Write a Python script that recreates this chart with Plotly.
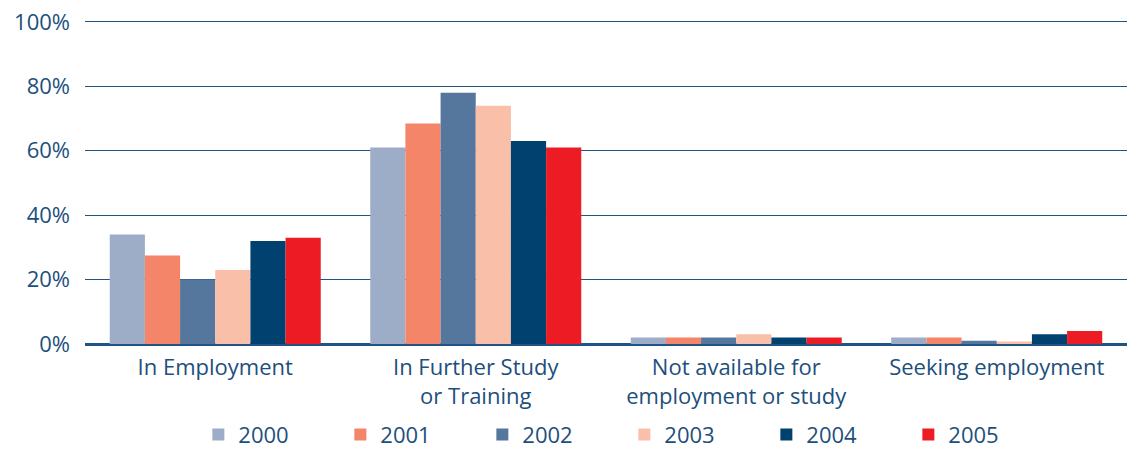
import plotly.graph_objects as go

categories = ["In Employment", "In Further Study<br>or Training",
              "Not available for<br>employment or study", "Seeking employment"]
years = ["2000", "2001", "2002", "2003", "2004", "2005"]
values = {
    "2000": [34, 61, 2, 2],
    "2001": [27.5, 68.5, 2, 2],
    "2002": [20, 78, 2, 1],
    "2003": [23, 74, 3, 0.8],
    "2004": [32, 63, 2, 3],
    "2005": [33, 61, 2, 4],
}
colors = {
    "2000": "#9dadc7",
    "2001": "#f48568",
    "2002": "#56779d",
    "2003": "#f9bfa8",
    "2004": "#004170",
    "2005": "#ed1c24",
}
tick_vals = [0, 20, 40, 60, 80, 100]
tick_text = ["0%", "20%", "40%", "60%", "80%", "100%"]

text_color = "#1d4f7c"
grid_color = "#1f5586"

fig = go.Figure()
for y in years:
    fig.add_trace(go.Bar(x=categories, y=values[y], name=y,
                         marker=dict(color=colors[y], line=dict(width=0))))

fig.update_layout(
    width=1127, height=449,
    margin=dict(l=85, r=0, t=20, b=105),
    paper_bgcolor="white", plot_bgcolor="white",
    barmode="group", bargap=0.19, bargroupgap=0,
    font=dict(family="Open Sans", size=22, color=text_color),
    showlegend=True,
    legend=dict(orientation="h", x=0.554, xanchor="center", xref="container",
                y=0.032, yanchor="middle", yref="container",
                font=dict(size=22, color=text_color), entrywidth=97,
                itemwidth=30, traceorder="normal"),
    xaxis=dict(showgrid=False, showline=False, ticks="", tickfont=dict(size=22),
               automargin=False, ticklabelstandoff=8),
    yaxis=dict(range=[0, 100.6], tickvals=tick_vals, ticktext=tick_text,
               showgrid=True, gridcolor=grid_color, gridwidth=1.4,
               zeroline=True, zerolinecolor=grid_color, zerolinewidth=2.5,
               ticklabelstandoff=14, tickfont=dict(size=22), automargin=False),
)

fig.write_html("out.html", config={"displayModeBar": False},
               post_script="document.body.style.margin='0';document.body.style.overflow='hidden';")
